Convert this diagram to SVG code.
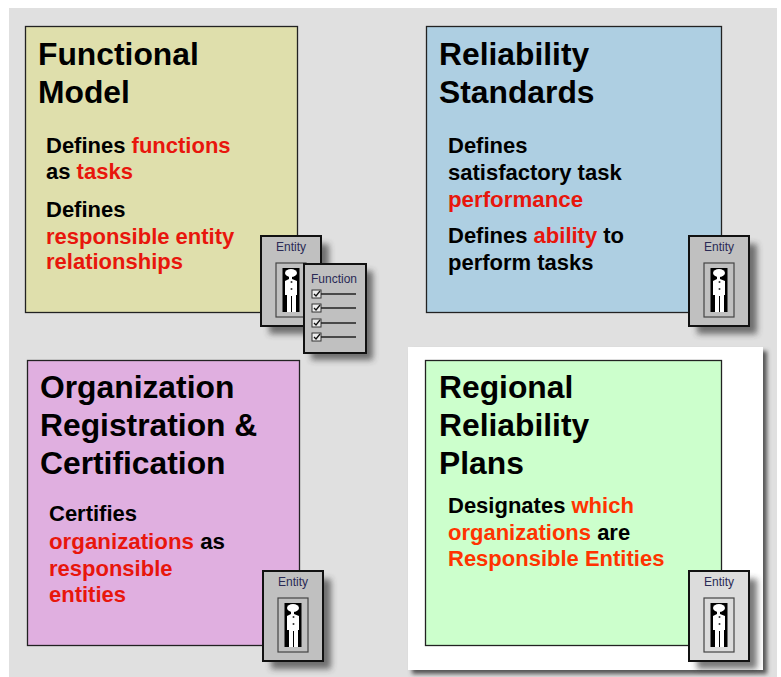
<svg xmlns="http://www.w3.org/2000/svg" xmlns:xlink="http://www.w3.org/1999/xlink" width="781" height="677" viewBox="0 0 781 677">
<style>
text{font-family:"Liberation Sans",Arial,sans-serif;font-weight:bold;fill:#000}
.t{font-size:31.800px}
.b{font-size:22px}
.b2{font-size:22.300px}
.r{fill:#e8160c}
.o{fill:#ff3300}
.box{stroke:#222;stroke-width:1.3}
.card{stroke:#111;stroke-width:2}
.in{fill:none;stroke:#444;stroke-width:1.2}
.lab{font-size:12px;font-weight:normal;fill:#2a2a55}
</style>
<defs>
<filter id="sh" x="-30%" y="-30%" width="170%" height="170%"><feGaussianBlur stdDeviation="3"/></filter>
<filter id="sh2" x="-5%" y="-5%" width="110%" height="110%"><feGaussianBlur stdDeviation="2"/></filter>
<g id="person">
<rect x="-8.500" y="-22" width="17" height="44" fill="#000"/>
<ellipse cx="0" cy="-17" rx="6" ry="4" fill="#fff"/>
<path d="M-2-14h3l0 3 5 2v14h-1v17h-4V6h-1v16h-4V5h-2V-9l4-2z" fill="#fff"/>
<circle cx="0.500" cy="-8" r="1" fill="#333"/><circle cx="0.500" cy="-1" r="1" fill="#333"/>
</g>
<g id="entity">
<rect x="8" y="8" width="60" height="90" fill="#333" opacity=".65" filter="url(#sh)"/>
<rect width="60" height="90" class="card"/>
<text x="30" y="15" text-anchor="middle" class="lab">Entity</text>
<rect x="15" y="27" width="30" height="54" class="in"/>
<use xlink:href="#person" href="#person" x="30" y="54"/>
</g>
</defs>
<rect x="9" y="8" width="768" height="669" fill="#e0e0e0"/>

<g id="functional-model">
<rect x="25.500" y="26.500" width="272" height="286" fill="#dfdfac" class="box"/>
<text class="t" x="38" y="64.500">Functional</text>
<text class="t" x="38" y="102.500">Model</text>
<text class="b" x="46" y="153">Defines <tspan class="r">functions</tspan></text>
<text class="b" x="46" y="179">as <tspan class="r">tasks</tspan></text>
<text class="b" x="46" y="217">Defines</text>
<text class="b r" x="46" y="244">responsible entity</text>
<text class="b r" x="46" y="269">relationships</text>
</g>
<g id="reliability-standards">
<rect x="426.500" y="26.500" width="295" height="286" fill="#aecfe2" class="box"/>
<text class="t" x="439" y="64.500">Reliability</text>
<text class="t" x="439" y="102.500">Standards</text>
<text class="b" x="448" y="153">Defines</text>
<text class="b" x="448" y="180">satisfactory task</text>
<text class="b2 r" x="448" y="207">performance</text>
<text class="b" x="448" y="243">Defines <tspan class="r">ability</tspan> to</text>
<text class="b" x="448" y="270">perform tasks</text>
</g>
<g id="organization-registration">
<rect x="27.500" y="360.500" width="272" height="285" fill="#e0afe0" class="box"/>
<text class="t" x="40" y="397.500">Organization</text>
<text class="t" x="40" y="435.500">Registration &amp;</text>
<text class="t" x="40" y="473.500">Certification</text>
<text class="b" x="49" y="521">Certifies</text>
<text class="b2" x="49" y="549"><tspan class="r">organizations</tspan> as</text>
<text class="b r" x="49" y="576">responsible</text>
<text class="b r" x="49" y="602">entities</text>
</g>
<g id="regional-reliability-plans">
<rect x="412" y="351" width="355" height="323" fill="#555" filter="url(#sh2)"/>
<rect x="408" y="347" width="355" height="323" fill="#fff"/>
<rect x="425.500" y="360.500" width="296" height="285" fill="#ccffcc" class="box"/>
<text class="t" x="439" y="397.500">Regional</text>
<text class="t" x="439" y="435.500">Reliability</text>
<text class="t" x="439" y="473.500">Plans</text>
<text class="b" x="448" y="513">Designates <tspan class="o">which</tspan></text>
<text class="b" x="448" y="540"><tspan class="o">organizations</tspan> are</text>
<text class="b o" x="448" y="566">Responsible Entities</text>
</g>
<g id="entity-functional" transform="translate(261,236)" fill="#c0c0c0"><use xlink:href="#entity" href="#entity"/></g>
<g id="function-card" transform="translate(304,264)">
<rect x="7" y="7" width="62" height="89" fill="#333" opacity=".65" filter="url(#sh)"/>
<rect width="62" height="89" fill="#c0c0c0" class="card"/>
<text x="30" y="19" text-anchor="middle" class="lab">Function</text>
<g fill="#eee" stroke="#333">
<rect x="8" y="26" width="9" height="8"/><rect x="8" y="40" width="9" height="8"/><rect x="8" y="55" width="9" height="8"/><rect x="8" y="69" width="9" height="8"/>
</g>
<path d="M17 30h35M17 44h35M17 59h35M17 73h35" fill="none" stroke="#222" stroke-width="1.400"/>
<path d="M10 30l2 2 4-5M10 44l2 2 4-5M10 59l2 2 4-5M10 73l2 2 4-5" fill="none" stroke="#111" stroke-width="1.300"/>
</g>
<g id="entity-reliability" transform="translate(689,236)" fill="#c0c0c0"><use xlink:href="#entity" href="#entity"/></g>
<g id="entity-organization" transform="translate(263,571)" fill="#c0c0c0"><use xlink:href="#entity" href="#entity"/></g>
<g id="entity-regional" transform="translate(689,571)" fill="#dcdcdc"><use xlink:href="#entity" href="#entity"/></g>
</svg>
